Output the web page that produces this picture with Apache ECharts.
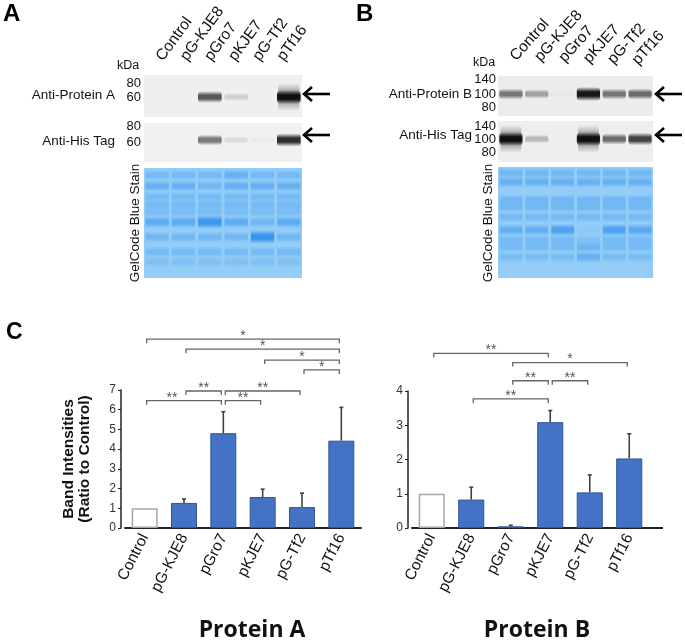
<!DOCTYPE html>
<html>
<head>
<meta charset="utf-8">
<script src="https://cdn.jsdelivr.net/npm/echarts@6/dist/echarts.min.js"></script>
<style>
html, body { margin: 0; padding: 0; background: #fff; }
#main { width: 685px; height: 642px; }
</style>
</head>
<body>
<div id="main"></div>
<script>
// lanes / categories
var lanes = ['Control', 'pG-KJE8', 'pGro7', 'pKJE7', 'pG-Tf2', 'pTf16'];

// panel C, band intensities (ratio to control), mean and upper error
var valA = [1.0, 1.27, 4.81, 1.57, 1.06, 4.43];
var errA = [0, 0.2, 1.09, 0.4, 0.71, 1.69];
var valB = [1.0, 0.83, 0.05, 3.09, 1.04, 2.03];
var errB = [0, 0.36, 0.03, 0.34, 0.51, 0.72];
var ticksA = [0, 1, 2, 3, 4, 5, 6, 7];
var ticksB = [0, 1, 2, 3, 4];

// significance brackets: [from lane, to lane, height (data units), label, label position]
var bracketsA = [
    [0, 5, 9.58, '*', 0.5],
    [1, 5, 9.07, '*', 0.5],
    [3, 5, 8.52, '*', 0.5],
    [4, 5, 8.02, '*', 0.5],
    [1, 2, 6.95, '**', 0.5],
    [2, 4, 6.95, '**', 0.5],
    [0, 2, 6.46, '**', 0.34],
    [2, 3, 6.46, '**', 0.5]
];
var bracketsB = [
    [0, 3, 5.10, '**', 0.5],
    [2, 5, 4.83, '*', 0.5],
    [2, 3, 4.30, '**', 0.5],
    [3, 4, 4.30, '**', 0.5],
    [1, 3, 3.77, '**', 0.5]
];

// western blot band darkness per lane (0..1)
var blotA1 = [0, 0, 0.7, 0.15, 0, 1.0];
var blotA2 = [0, 0, 0.55, 0.1, 0.03, 0.9];
var blotB1 = [0.55, 0.35, 0.03, 1.0, 0.55, 0.6];
var blotB2 = [1.0, 0.25, 0, 1.0, 0.6, 0.8];
var kdaA1 = ['80', '60'];
var kdaA2 = ['80', '60'];
var kdaB = ['140', '100', '80'];

var FONT = 'Liberation Sans, Arial, sans-serif';
var gfx = [];

function txt(x, y, s, size, opts) {
    opts = opts || {};
    gfx.push({
        type: 'text', x: x, y: y, rotation: opts.rot || 0, z: 10,
        style: {
            text: s, font: (opts.bold ? 'bold ' : '') + size + 'px ' + (opts.family || FONT),
            fill: opts.color || '#111',
            align: opts.align || 'left', textAlign: opts.align || 'left',
            verticalAlign: opts.valign || 'middle', textVerticalAlign: opts.valign || 'middle'
        }
    });
}

function soft(rgb, a) {
    return {
        type: 'linear', x: 0, y: 0, x2: 0, y2: 1,
        colorStops: [
            { offset: 0, color: 'rgba(' + rgb + ',0)' },
            { offset: 0.35, color: 'rgba(' + rgb + ',' + a + ')' },
            { offset: 0.65, color: 'rgba(' + rgb + ',' + a + ')' },
            { offset: 1, color: 'rgba(' + rgb + ',0)' }
        ]
    };
}

function arrow(x, y) {
    gfx.push({ type: 'polyline', z: 10, shape: { points: [[x + 2, y], [x + 28, y]] }, style: { stroke: '#000', lineWidth: 2.6, fill: null } });
    gfx.push({ type: 'polyline', z: 10, shape: { points: [[x + 10, y - 7], [x + 2, y], [x + 10, y + 7]] }, style: { stroke: '#000', lineWidth: 2.6, fill: null } });
}

function blot(x, y, w, h, bg, bands, bandY, extraSmear) {
    gfx.push({ type: 'rect', shape: { x: x, y: y, width: w, height: h }, style: { fill: bg } });
    var lw = w / 6;
    for (var i = 0; i < bands.length; i++) {
        var a = bands[i];
        if (a <= 0) continue;
        if (extraSmear && a > 0.8) {
            gfx.push({
                type: 'rect', z: 1,
                shape: { x: x + lw * i + lw * 0.1, y: bandY - 14, width: lw * 0.8, height: 28, r: 4 },
                style: { fill: soft('0,0,0', 0.35) }
            });
        }
        var bh = 7 + a * 7;
        gfx.push({
            type: 'rect', z: 2,
            shape: { x: x + lw * i + lw * 0.05, y: bandY - bh / 2, width: lw * 0.9, height: bh, r: 4 },
            style: { fill: soft('0,0,0', Math.min(1, a * 0.9)) }
        });
    }
}

function gel(x, y, w, h, rows, special) {
    gfx.push({ type: 'rect', shape: { x: x, y: y, width: w, height: h }, style: { fill: '#92ccf7' } });
    var lw = w / 6;
    for (var i = 0; i < 6; i++) {
        for (var r = 0; r < rows.length; r++) {
            var a = rows[r][1];
            if (special[i] && special[i][r] !== undefined) a = special[i][r];
            if (a <= 0) continue;
            var bh = 9 + a * 5;
            gfx.push({
                type: 'rect', z: 2,
                shape: { x: x + lw * i + 1.5, y: y + rows[r][0] - bh / 2, width: lw - 3, height: bh },
                style: { fill: soft('35,135,235', a * 0.85) }
            });
        }
    }
}

// ---- panel A ----
txt(3, 14, 'A', 24, { bold: true, color: '#000' });
for (var i = 0; i < lanes.length; i++) {
    txt(166 + i * 24.2, 64, lanes[i], 15.5, { rot: 54 * Math.PI / 180, valign: 'bottom' });
}
txt(117, 66, 'kDa', 12.5);
blot(144, 75, 158, 42, '#efefef', blotA1, 97, true);
blot(144, 123, 158, 39, '#f1f1f1', blotA2, 140, false);
txt(141, 83, kdaA1[0], 13, { align: 'right' });
txt(141, 97, kdaA1[1], 13, { align: 'right' });
txt(141, 126, kdaA2[0], 13, { align: 'right' });
txt(141, 142, kdaA2[1], 13, { align: 'right' });
txt(115, 95, 'Anti-Protein A', 13.5, { align: 'right' });
txt(115, 141, 'Anti-His Tag', 13.5, { align: 'right' });
arrow(302, 94);
arrow(302, 135);
gel(144, 168, 158, 110,
    [[7, 0.3], [18, 0.45], [29, 0.3], [37, 0.3], [44, 0.25], [54, 0.55], [69, 0.35], [84, 0.3], [94, 0.2]],
    { 2: { 5: 0.9, 1: 0.35 }, 4: { 6: 0.95, 5: 0.35 }, 3: { 0: 0.45 } });
txt(135, 223, 'GelCode Blue Stain', 13.5, { rot: Math.PI / 2, align: 'center' });

// ---- panel B ----
txt(356, 14, 'B', 24, { bold: true, color: '#000' });
for (var i = 0; i < lanes.length; i++) {
    txt(519 + i * 24.4, 64 + i * 0.8, lanes[i], 15.5, { rot: 48 * Math.PI / 180, valign: 'bottom' });
}
txt(473, 63, 'kDa', 12.5);
blot(498, 76, 155, 40, '#ececec', blotB1, 94, false);
blot(498, 121, 155, 41, '#eeeeee', blotB2, 139, true);
txt(496, 79, kdaB[0], 13, { align: 'right' });
txt(496, 94, kdaB[1], 13, { align: 'right' });
txt(496, 107, kdaB[2], 13, { align: 'right' });
txt(496, 126, kdaB[0], 13, { align: 'right' });
txt(496, 139, kdaB[1], 13, { align: 'right' });
txt(496, 152, kdaB[2], 13, { align: 'right' });
txt(472, 94, 'Anti-Protein B', 13.5, { align: 'right' });
txt(472, 135, 'Anti-His Tag', 13.5, { align: 'right' });
arrow(654, 94);
arrow(654, 135);
gel(498, 167, 155, 111,
    [[6, 0.35], [15, 0.45], [33, 0.35], [40, 0.35], [50, 0.3], [63, 0.5], [73, 0.3], [80, 0.3], [90, 0.25]],
    { 3: { 5: 0.05, 6: 0.2, 7: 0.4, 8: 0.45 }, 2: { 5: 0.7 }, 4: { 5: 0.7 }, 5: { 5: 0.6 } });
txt(488, 223, 'GelCode Blue Stain', 13.5, { rot: Math.PI / 2, align: 'center' });

// ---- panel C ----
txt(6, 333, 'C', 23, { bold: true, color: '#000' });
// extend x axis line of right chart
gfx.push({ type: 'line', shape: { x1: 648, y1: 528, x2: 663, y2: 528 }, style: { stroke: '#222', lineWidth: 2 } });

function errRender(vals, errs) {
    return function (params, api) {
        var i = params.dataIndex;
        if (!errs[i]) return;
        var p0 = api.coord([i, vals[i]]);
        var p1 = api.coord([i, vals[i] + errs[i]]);
        var st = { stroke: '#404040', lineWidth: 1.6 };
        return {
            type: 'group', children: [
                { type: 'line', shape: { x1: p0[0], y1: p0[1], x2: p1[0], y2: p1[1] }, style: st },
                { type: 'line', shape: { x1: p1[0] - 2, y1: p1[1], x2: p1[0] + 2, y2: p1[1] }, style: st }
            ]
        };
    };
}

function bracketRender(list) {
    return function (params, api) {
        var b = list[params.dataIndex];
        var p1 = api.coord([b[0], b[2]]);
        var p2 = api.coord([b[1], b[2]]);
        var x1 = p1[0] + 2, x2 = p2[0] - 2, y = p1[1];
        var st = { stroke: '#666', lineWidth: 1.3, fill: null };
        return {
            type: 'group', children: [
                { type: 'polyline', shape: { points: [[x1, y + 4], [x1, y], [x2, y], [x2, y + 4]] }, style: st },
                {
                    type: 'text', x: x1 + (x2 - x1) * b[4], y: y - 3,
                    style: { text: b[3], font: '14px ' + FONT, fill: '#555', align: 'center', verticalAlign: 'middle', textAlign: 'center', textVerticalAlign: 'middle' }
                }
            ]
        };
    };
}

function barData(vals) {
    return vals.map(function (v, i) {
        if (i === 0) {
            return { value: v, itemStyle: { color: '#fff', borderColor: '#a6a6a6', borderWidth: 1.5 } };
        }
        return v;
    });
}

function xAx(idx) {
    return {
        type: 'category', gridIndex: idx, data: lanes,
        axisTick: { show: false },
        axisLine: { lineStyle: { color: '#222', width: 2 } },
        axisLabel: { rotate: 63, fontSize: 15.5, color: '#111', margin: 7, fontFamily: FONT, interval: 0 }
    };
}

function yAx(idx, max, name) {
    return {
        type: 'value', gridIndex: idx, min: 0, max: max, interval: 1, offset: 4,
        name: name, nameLocation: 'middle', nameGap: 28, nameRotate: 90,
        nameTextStyle: { fontSize: 15.5, fontWeight: 'bold', color: '#111', fontFamily: FONT, lineHeight: 16 },
        splitLine: { show: false },
        axisLine: { show: true, lineStyle: { color: '#222', width: 1.5 } },
        axisTick: { show: true, length: 3, lineStyle: { color: '#222' } },
        axisLabel: { fontSize: 12, color: '#333', margin: 5, fontFamily: FONT }
    };
}

var option = {
    animation: false,
    backgroundColor: '#fff',
    title: [
        { text: 'Protein A', left: 247, top: 614, textAlign: 'center', textStyle: { fontSize: 23, fontWeight: 'bold', color: '#111', fontFamily: 'Open Sans, sans-serif' } },
        { text: 'Protein B', left: 532, top: 614, textAlign: 'center', textStyle: { fontSize: 23, fontWeight: 'bold', color: '#111', fontFamily: 'Open Sans, sans-serif' } }
    ],
    grid: [
        { left: 125, top: 390, width: 236, height: 138 },
        { left: 412, top: 391, width: 237, height: 137 }
    ],
    xAxis: [xAx(0), xAx(1)],
    yAxis: [yAx(0, ticksA[ticksA.length - 1], 'Band Intensities\n(Ratio to Control)'), yAx(1, ticksB[ticksB.length - 1], '')],
    series: [
        {
            type: 'bar', xAxisIndex: 0, yAxisIndex: 0, data: barData(valA), barWidth: '66%',
            itemStyle: { color: '#4472c4', borderColor: '#2f5597', borderWidth: 1 }
        },
        {
            type: 'bar', xAxisIndex: 1, yAxisIndex: 1, data: barData(valB), barWidth: '66%',
            itemStyle: { color: '#4472c4', borderColor: '#2f5597', borderWidth: 1 }
        },
        {
            type: 'custom', xAxisIndex: 0, yAxisIndex: 0, z: 5,
            data: valA.map(function (v, i) { return [i, v + errA[i]]; }),
            renderItem: errRender(valA, errA)
        },
        {
            type: 'custom', xAxisIndex: 1, yAxisIndex: 1, z: 5,
            data: valB.map(function (v, i) { return [i, v + errB[i]]; }),
            renderItem: errRender(valB, errB)
        },
        {
            type: 'custom', xAxisIndex: 0, yAxisIndex: 0, clip: false, z: 5,
            data: bracketsA.map(function (b) { return [b[0], 0]; }),
            renderItem: bracketRender(bracketsA)
        },
        {
            type: 'custom', xAxisIndex: 1, yAxisIndex: 1, clip: false, z: 5,
            data: bracketsB.map(function (b) { return [b[0], 0]; }),
            renderItem: bracketRender(bracketsB)
        }
    ],
    graphic: { elements: gfx }
};

var myChart = echarts.init(document.getElementById('main'));
myChart.setOption(option);
</script>
</body>
</html>
